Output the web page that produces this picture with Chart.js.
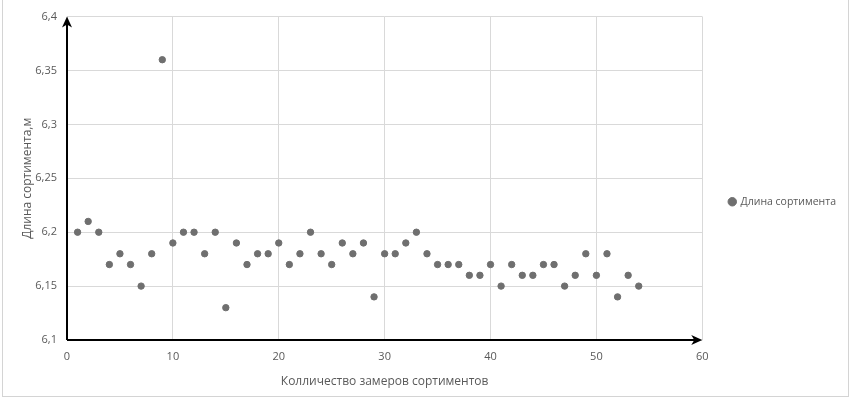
<!DOCTYPE html>
<html>
<head>
<meta charset="utf-8">
<script src="https://cdn.jsdelivr.net/npm/chart.js@4"></script>
<style>
    body { margin: 0; background: #fff; }
    #wrap { position: relative; width: 851px; height: 402px; }
    #frame { position: absolute; left: 2px; top: -2px; width: 845px; height: 397px;
             border: 1px solid #d4d4d4; pointer-events: none; }
</style>
</head>
<body>
<div id="wrap">
    <canvas id="scatterChart" width="851" height="402"></canvas>
    <div id="frame"></div>
</div>
<script>
// measurement number (x) and log length in metres (y)
const measureNo = [
    1, 2, 3, 4, 5, 6, 7, 8, 9, 10,
    11, 12, 13, 14, 15, 16, 17, 18, 19, 20,
    21, 22, 23, 24, 25, 26, 27, 28, 29, 30,
    31, 32, 33, 34, 35, 36, 37, 38, 39, 40,
    41, 42, 43, 44, 45, 46, 47, 48, 49, 50,
    51, 52, 53, 54
];
const logLength = [
    6.20, 6.21, 6.20, 6.17, 6.18, 6.17, 6.15, 6.18, 6.36, 6.19,
    6.20, 6.20, 6.18, 6.20, 6.13, 6.19, 6.17, 6.18, 6.18, 6.19,
    6.17, 6.18, 6.20, 6.18, 6.17, 6.19, 6.18, 6.19, 6.14, 6.18,
    6.18, 6.19, 6.20, 6.18, 6.17, 6.17, 6.17, 6.16, 6.16, 6.17,
    6.15, 6.17, 6.16, 6.16, 6.17, 6.17, 6.15, 6.16, 6.18, 6.16,
    6.18, 6.14, 6.16, 6.15
];
const seriesName = 'Длина сортимента';
const xTitle = 'Колличество замеров сортиментов';
const yTitle = 'Длина сортимента,м';

const textColor = '#595959';
const gridColor = '#d9d9d9';
const pointColor = '#6f6f6f';

// black axis lines with arrow heads
const arrowAxes = {
    id: 'arrowAxes',
    afterDatasetsDraw(chart) {
        const { ctx, chartArea: a } = chart;
        ctx.save();
        ctx.strokeStyle = '#000';
        ctx.fillStyle = '#000';
        ctx.lineWidth = 2;
        ctx.beginPath();
        ctx.moveTo(a.left, a.bottom);
        ctx.lineTo(a.left, a.top + 4);
        ctx.moveTo(a.left, a.bottom);
        ctx.lineTo(a.right - 4, a.bottom);
        ctx.stroke();
        // top arrow
        ctx.beginPath();
        ctx.moveTo(a.left, a.top);
        ctx.lineTo(a.left - 5, a.top + 11);
        ctx.lineTo(a.left, a.top + 8);
        ctx.lineTo(a.left + 5, a.top + 11);
        ctx.closePath();
        ctx.fill();
        // right arrow
        ctx.beginPath();
        ctx.moveTo(a.right, a.bottom);
        ctx.lineTo(a.right - 11, a.bottom - 5);
        ctx.lineTo(a.right - 8, a.bottom);
        ctx.lineTo(a.right - 11, a.bottom + 5);
        ctx.closePath();
        ctx.fill();
        ctx.restore();
    }
};

const points = measureNo.map((x, i) => ({ x: x, y: logLength[i] }));

new Chart('scatterChart', {
    type: 'scatter',
    data: {
        datasets: [{
            label: seriesName,
            data: points,
            backgroundColor: pointColor,
            borderColor: pointColor,
            pointRadius: 3.2,
            pointHoverRadius: 3.2
        }]
    },
    options: {
        responsive: false,
        animation: false,
        layout: { padding: { top: 1.5, right: 5, left: 0, bottom: 0 } },
        plugins: {
            tooltip: { enabled: false },
            legend: {
                position: 'right',
                labels: {
                    usePointStyle: true,
                    pointStyle: 'circle',
                    boxWidth: 6,
                    boxHeight: 6,
                    padding: 27,
                    color: textColor,
                    font: { family: 'Open Sans', size: 10.5 }
                }
            }
        },
        scales: {
            x: {
                type: 'linear',
                min: 0,
                max: 60,
                ticks: { stepSize: 10, color: textColor, padding: 10,
                         font: { family: 'Open Sans', size: 11 } },
                grid: { color: gridColor, drawTicks: false },
                border: { display: false },
                title: {
                    display: true,
                    text: xTitle,
                    color: textColor,
                    font: { family: 'Open Sans', size: 12 },
                    padding: { top: 6, bottom: 13 }
                },
                afterFit(scale) { scale.height = 62; }
            },
            y: {
                min: 6.1,
                max: 6.4,
                ticks: {
                    stepSize: 0.05,
                    color: textColor,
                    padding: 10,
                    font: { family: 'Open Sans', size: 11 },
                    callback: v => String(Math.round(v * 100) / 100).replace('.', ',')
                },
                grid: { color: gridColor, drawTicks: false },
                border: { display: false },
                title: {
                    display: true,
                    text: yTitle,
                    color: textColor,
                    font: { family: 'Open Sans', size: 12 },
                    padding: { top: 20, bottom: 4 }
                },
                afterFit(scale) { scale.width = 67; }
            }
        }
    },
    plugins: [arrowAxes]
});
</script>
</body>
</html>
